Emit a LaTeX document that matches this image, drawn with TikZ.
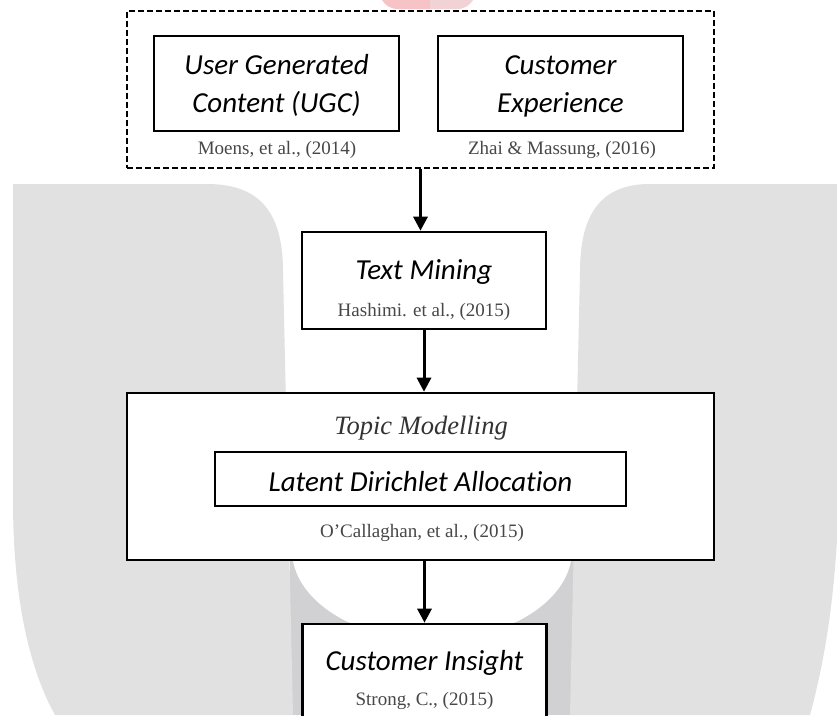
\documentclass[tikz,border=0pt]{standalone}
\usepackage{fontspec}
\setmainfont{Liberation Serif}
\newfontfamily\calibri[Ligatures=NoCommon]{Carlito}
\usetikzlibrary{arrows.meta}
\definecolor{wmlight}{HTML}{E1E1E1}
\definecolor{wmdark}{HTML}{D1D1D3}
\definecolor{redA}{HTML}{F6C3C6}
\definecolor{redB}{HTML}{F1D3D5}
\tikzset{
  box/.style={draw=black, line width=2.6pt, fill=white, inner sep=0pt},
  dbox/.style={draw=black, line width=2pt, dash pattern=on 6pt off 3pt, inner sep=0pt},
  lbl/.style={font=\calibri\itshape\fontsize{29}{36}\selectfont, anchor=base, inner sep=0pt},
  cite/.style={font=\fontsize{19}{23}\selectfont, text=black!72, anchor=base, inner sep=0pt},
  ttl/.style={font=\itshape\fontsize{26.5}{32}\selectfont, text=black!80, anchor=base, inner sep=0pt},
  arr/.style={line width=3pt, -{Triangle[length=14pt,width=14pt]}}
}
\begin{document}
\begin{tikzpicture}[x=1pt,y=-1pt]
\useasboundingbox (0,0) rectangle (837,715);
\clip (0,0) rectangle (837,715);
\fill[white] (0,0) rectangle (837,715);
% watermark
\fill[wmdark] (290,550) rectangle (574,715);
\fill[white] (432,550) ellipse [x radius=140, y radius=90];
\fill[wmlight] (13,184) -- (207,184) .. controls (262,184) and (283,215) .. (283,272) -- (293,715) -- (55,715) .. controls (30,670) and (13,600) .. (13,500) -- cycle;
\fill[wmlight] (650,184) -- (837,184) -- (837,540) .. controls (832,620) and (822,670) .. (810,715) -- (570,715) -- (580,272) .. controls (580,215) and (600,184) .. (650,184) -- cycle;
\fill[redA] (382,0) -- (430,0) -- (430,9) -- (398,9) .. controls (390,9) and (385,5) .. (382,0) -- cycle;
\fill[redB] (430,0) -- (473,0) .. controls (470,5) and (465,9) .. (457,9) -- (430,9) -- cycle;

% group
\node[dbox, minimum width=587pt, minimum height=157pt] (grp) at (420.5,89.5) {};
\node[box, minimum width=245pt, minimum height=95pt] (ugc) at (276.5,83.5) {};
\node[box, minimum width=245pt, minimum height=95pt] (cx) at (560.5,83.5) {};
\node[lbl] (ugc1) at (276.5,74) {User Generated};
\node[lbl] (ugc2) at (276.5,112) {Content (UGC)};
\node[lbl] (cx1) at (560.5,74) {Customer};
\node[lbl] (cx2) at (560.5,112) {Experience};
\node[cite] (c1) at (277,154) {Moens, et al., (2014)};
\node[cite] (c2) at (562,154) {Zhai \& Massung, (2016)};

% text mining
\node[box, minimum width=244pt, minimum height=97pt] (tm) at (424,280.5) {};
\node[lbl] (tm1) at (424,279) {Text Mining};
\node[cite] (c3) at (424,316) {Hashimi. et al., (2015)};

% topic modelling
\node[box, minimum width=587pt, minimum height=167pt] (tmod) at (420.5,476.5) {};
\node[ttl] (tmodt) at (421,434) {Topic Modelling};
\node[box, minimum width=411pt, minimum height=54pt] (lda) at (420.5,479) {};
\node[lbl] (ldat) at (420.5,491) {Latent Dirichlet Allocation};
\node[cite] (c4) at (422,537) {O'Callaghan, et al., (2015)};

% customer insight
\node[box, minimum width=244pt, minimum height=112pt] (ci) at (424.5,680) {};
\node[lbl] (cit) at (424.5,670) {Customer Insight};
\node[cite] (c5) at (424.5,705) {Strong, C., (2015)};

% arrows
\draw[arr] (grp.south) -- (grp.south |- tm.north);
\draw[arr] (tm.south) -- (tm.south |- tmod.north);
\draw[arr] (tmod.south -| ci.north) -- (ci.north);
\end{tikzpicture}
\end{document}
